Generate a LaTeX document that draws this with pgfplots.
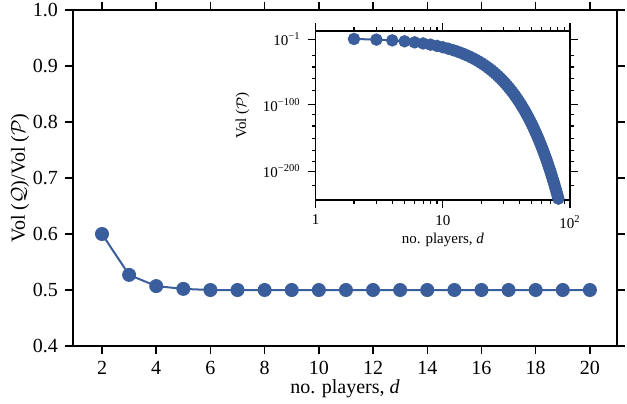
\documentclass[border=0pt]{standalone}
\usepackage{fontspec}
\setmainfont{Liberation Serif}
\usepackage{pgfplots}
\pgfplotsset{compat=1.18}
\definecolor{pblue}{RGB}{58,93,156}
\pgfplotstableread{
d v
2 -0.60
3 -1.56
4 -2.76
5 -4.16
6 -5.71
7 -7.40
8 -9.21
9 -11.12
10 -13.12
11 -15.20
12 -17.36
13 -19.59
14 -21.88
15 -24.23
16 -26.64
17 -29.10
18 -31.61
19 -34.17
20 -36.77
21 -39.42
22 -42.10
23 -44.82
24 -47.59
25 -50.38
26 -53.21
27 -56.07
28 -58.97
29 -61.89
30 -64.85
31 -67.83
32 -70.84
33 -73.88
34 -76.94
35 -80.03
36 -83.14
37 -86.28
38 -89.44
39 -92.62
40 -95.82
41 -99.05
42 -102.30
43 -105.56
44 -108.85
45 -112.16
46 -115.48
47 -118.83
48 -122.19
49 -125.57
50 -128.97
51 -132.38
52 -135.81
53 -139.26
54 -142.73
55 -146.21
56 -149.70
57 -153.22
58 -156.74
59 -160.28
60 -163.84
61 -167.41
62 -171.00
63 -174.59
64 -178.21
65 -181.83
66 -185.47
67 -189.12
68 -192.79
69 -196.47
70 -200.16
71 -203.86
72 -207.57
73 -211.30
74 -215.04
75 -218.79
76 -222.55
77 -226.32
78 -230.11
79 -233.90
80 -237.71
81 -241.53
82 -245.35
83 -249.19
84 -253.04
85 -256.90
86 -260.77
87 -264.65
88 -268.54
89 -272.44
90 -276.34
}\voltable
\begin{document}
\begin{tikzpicture}
\useasboundingbox (-36.5pt,-28.5pt) rectangle (277pt,173pt);
\begin{axis}[
  at={(0pt,0pt)}, anchor=south west,
  scale only axis, width=272pt, height=168pt,
  xmin=0.93, xmax=21, ymin=0.4, ymax=1.0,
  xtick={2,4,6,8,10,12,14,16,18,20},
  ytick={0.4,0.5,0.6,0.7,0.8,0.9,1.0},
  yticklabel style={/pgf/number format/.cd,fixed,fixed zerofill,precision=1},
  /pgf/number format/assume math mode=true,
  tick align=outside, tick pos=both,
  major tick length=4pt,
  axis line style={line width=0.75pt},
  every tick/.style={line width=0.75pt, black},
  xlabel={no. players, \textit{d}},
  ylabel={Vol ($\mathcal{Q}$)/Vol ($\mathcal{P}$)},
  tick label style={font=\fontsize{10}{12}\selectfont},
  label style={font=\fontsize{10}{12}\selectfont},
  xlabel style={yshift=4.5pt},
  ylabel style={yshift=-5pt},
]
\addplot[color=pblue, line width=1pt, mark=*, mark size=3pt, mark options={fill=pblue, draw=pblue}] coordinates {
(2,0.600) (3,0.527) (4,0.507) (5,0.502) (6,0.500) (7,0.500) (8,0.500) (9,0.500) (10,0.500)
(11,0.500) (12,0.500) (13,0.500) (14,0.500) (15,0.500) (16,0.500) (17,0.500) (18,0.500) (19,0.500) (20,0.500)
};
\end{axis}
\begin{axis}[
  at={(121.35pt,73pt)}, anchor=south west,
  scale only axis, width=127.15pt, height=84.5pt,
  xmode=log, xmin=1, xmax=100,
  ymin=-243.6, ymax=11.4,
  xtick={1,10,100}, xticklabels={1,10,10\textsuperscript{2}},
  ytick={-1,-100,-200},
  yticklabels={10\textsuperscript{−1},10\textsuperscript{−100},10\textsuperscript{−200}},
  minor ytick={-25,-43,-60,-78,-115,-132,-151,-169,-186,-222},
  axis background/.style={fill=white},
  tick align=outside, tick pos=both,
  major tick length=4pt, minor tick length=2pt,
  axis line style={line width=0.75pt},
  every tick/.style={line width=0.6pt, black},
  xlabel={no. players, \textit{d}},
  ylabel={Vol ($\mathcal{P}$)},
  tick label style={font=\fontsize{7.5}{9}\selectfont},
  label style={font=\fontsize{7.5}{9}\selectfont},
  xlabel style={yshift=4.5pt},
]
\addplot[color=pblue, line width=1pt, mark=*, mark size=2.6pt, mark options={fill=pblue, draw=pblue}] table[x=d, y=v] {\voltable};
\end{axis}
\end{tikzpicture}
\end{document}
